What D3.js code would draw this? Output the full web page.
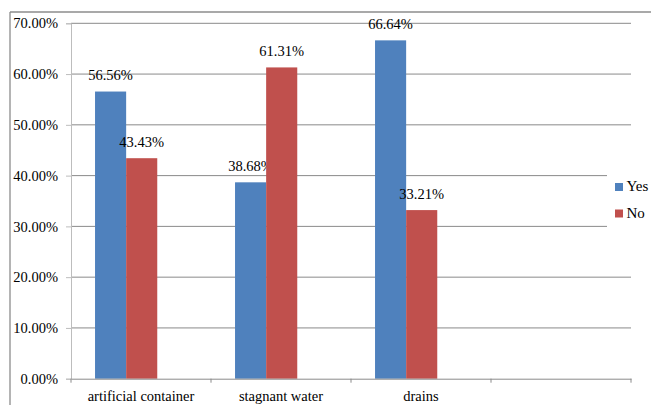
<!DOCTYPE html>
<html>
<head>
<meta charset="utf-8">
<script src="https://cdn.jsdelivr.net/npm/d3@7/dist/d3.min.js"></script>
<style>
  html, body { margin: 0; padding: 0; background: #fff; }
  svg { display: block; }
</style>
</head>
<body>
<svg id="chart" width="651" height="405"></svg>
<script>
// ---- data ----
const categories = ["artificial container", "stagnant water", "drains", ""];
const seriesNames = ["Yes", "No"];
const yesValues = [0.5656, 0.3868, 0.6664, null];
const noValues = [0.4343, 0.6131, 0.3321, null];
const slotNames = ["Yes", "No", "(blank)"];
const yTicks = [0, 0.1, 0.2, 0.3, 0.4, 0.5, 0.6, 0.7];
const colors = { Yes: "#4F81BD", No: "#C0504D" };
const FONT = "Liberation Serif";

const svg = d3.select("#chart");
const margin = { left: 71, top: 23.3 };
const plotRight = 631;
const plotBottom = 378.7;

const x = d3.scaleBand().domain(categories).range([margin.left, plotRight]).paddingInner(0).paddingOuter(0);
const xs = d3.scaleBand().domain(slotNames).range([0, x.bandwidth()]).paddingInner(0).paddingOuter(0.75);
const y = d3.scaleLinear().domain([0, 0.7]).range([plotBottom, margin.top]);

// outer chart border (top & left visible)
svg.append("line").attr("x1", 10).attr("x2", 651).attr("y1", 12).attr("y2", 12)
  .attr("stroke", "#8c8c8c").attr("stroke-width", 1.6);
svg.append("line").attr("x1", 10).attr("x2", 10).attr("y1", 12).attr("y2", 405)
  .attr("stroke", "#8c8c8c").attr("stroke-width", 1.3);

// gridlines
svg.append("g").selectAll("line").data(yTicks.filter(d => d > 0)).join("line")
  .attr("x1", margin.left).attr("x2", plotRight)
  .attr("y1", d => y(d)).attr("y2", d => y(d))
  .attr("stroke", "#8a8a8a").attr("stroke-width", 1);

// bars
const rows = categories.map((c, i) => ({ cat: c, Yes: yesValues[i], No: noValues[i] }));
const g = svg.append("g");
rows.forEach(r => {
  seriesNames.forEach(s => {
    const v = r[s];
    if (v == null) return;
    const bx = x(r.cat) + xs(s);
    g.append("rect")
      .attr("x", bx + 0.7).attr("width", xs.bandwidth())
      .attr("y", y(v)).attr("height", y(0) - y(v))
      .attr("fill", colors[s]);
    g.append("text")
      .attr("x", bx + 0.7 + xs.bandwidth() / 2).attr("y", y(v) - 11.5)
      .attr("text-anchor", "middle")
      .style("font-family", FONT).style("font-size", "14.5px")
      .text(d3.format(".2%")(v));
  });
});

// y axis
const yAxis = d3.axisLeft(y).tickValues(yTicks).tickFormat(d3.format(".2%")).tickSize(5).tickPadding(8);
const ya = svg.append("g").attr("transform", `translate(${margin.left},0)`).call(yAxis);
ya.select(".domain").attr("stroke", "#bdbdbd");
ya.selectAll(".tick line").attr("stroke", "#bdbdbd");
ya.selectAll(".tick text").style("font-family", FONT).style("font-size", "14.5px").attr("fill", "#000");

// x axis
const xAxis = d3.axisBottom(x).tickSize(0).tickPadding(12);
const xa = svg.append("g").attr("transform", `translate(0,${plotBottom})`).call(xAxis);
xa.select(".domain").attr("stroke", "#8a8a8a");
xa.selectAll(".tick text").style("font-family", FONT).style("font-size", "14.5px").attr("fill", "#000");
// category boundary ticks
const bounds = categories.map(c => x(c)).concat([x(categories[categories.length - 1]) + x.bandwidth()]);
xa.selectAll(".btick").data(bounds).join("line").attr("class", "btick")
  .attr("x1", d => d).attr("x2", d => d).attr("y1", 0).attr("y2", 4)
  .attr("stroke", "#8a8a8a");

// legend
const lg = svg.append("g");
lg.append("rect").attr("x", 607).attr("y", 168).attr("width", 44).attr("height", 64).attr("fill", "#fff");
seriesNames.forEach((s, i) => {
  const yy = 183 + i * 26.5;
  lg.append("rect").attr("x", 615).attr("y", yy).attr("width", 8).attr("height", 8).attr("fill", colors[s]);
  lg.append("text").attr("x", 626.5).attr("y", yy + 8)
    .style("font-family", FONT).style("font-size", "15px").text(s);
});
</script>
</body>
</html>
